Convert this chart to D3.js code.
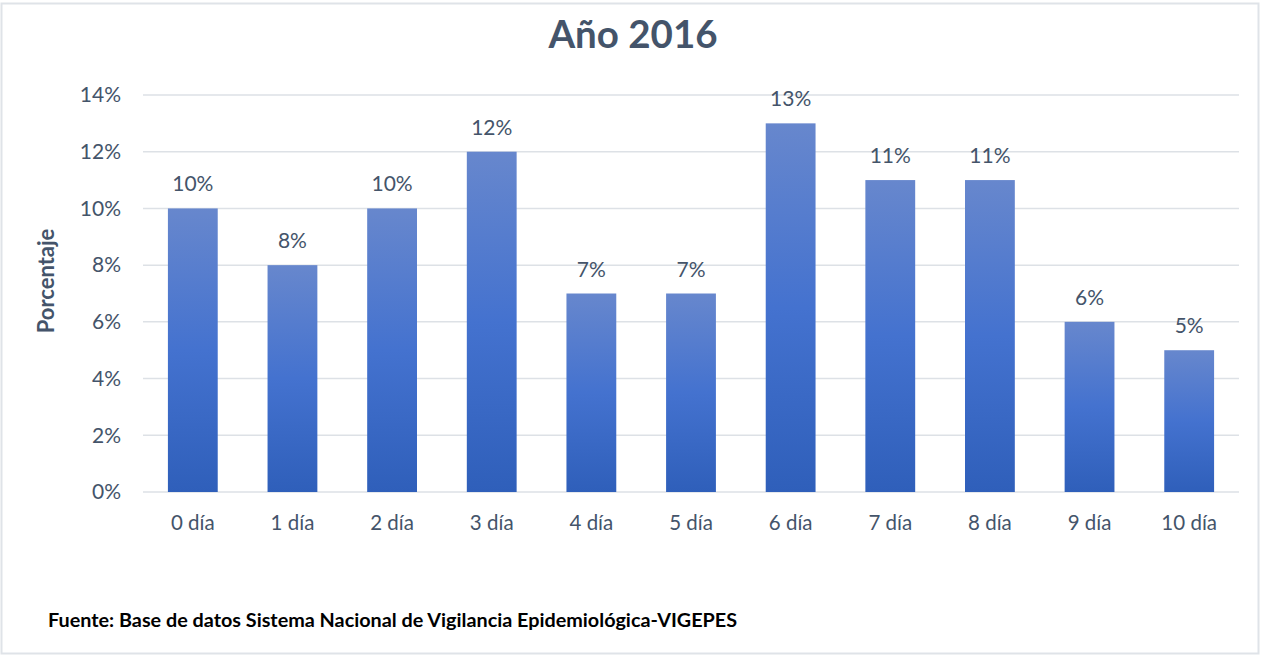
<!DOCTYPE html>
<html>
<head>
<meta charset="utf-8">
<script src="https://cdn.jsdelivr.net/npm/d3@7"></script>
<style>
  body { margin: 0; background: #fff; }
  svg { display: block; font-family: Lato, "Open Sans", sans-serif; }
</style>
</head>
<body>
<div id="chart"></div>
<script>
// Data
const categories = ['0 día', '1 día', '2 día', '3 día', '4 día', '5 día', '6 día', '7 día', '8 día', '9 día', '10 día'];
const values = [10, 8, 10, 12, 7, 7, 13, 11, 11, 6, 5];
const yTicks = [0, 2, 4, 6, 8, 10, 12, 14];

const W = 1267, H = 656;
const margin = { top: 95, right: 28, bottom: 164, left: 143 };
const width = W - margin.left - margin.right;
const height = H - margin.top - margin.bottom;

const svg = d3.select('#chart').append('svg')
  .attr('width', W)
  .attr('height', H);

// gradient for bars
const grad = svg.append('defs').append('linearGradient')
  .attr('id', 'barGrad')
  .attr('x1', 0).attr('y1', 0).attr('x2', 0).attr('y2', 1);
grad.append('stop').attr('offset', '0%').attr('stop-color', '#6787cd');
grad.append('stop').attr('offset', '50%').attr('stop-color', '#4472cf');
grad.append('stop').attr('offset', '100%').attr('stop-color', '#2f5fba');

// frame
svg.append('rect')
  .attr('x', 1.5).attr('y', 3.5)
  .attr('width', 1257).attr('height', 650)
  .attr('fill', 'none')
  .attr('stroke', '#dfe3e8')
  .attr('stroke-width', 2);

const g = svg.append('g')
  .attr('transform', `translate(${margin.left}, ${margin.top})`);

const x = d3.scaleBand().domain(categories).range([0, width]).paddingInner(0.5).paddingOuter(0.25);
const y = d3.scaleLinear().domain([0, 14]).range([height, 0]);

// gridlines
g.selectAll('.grid').data(yTicks).enter()
  .append('line')
  .attr('class', 'grid')
  .attr('x1', 0).attr('x2', width)
  .attr('y1', d => y(d)).attr('y2', d => y(d))
  .attr('stroke', '#dde1e6')
  .attr('stroke-width', 1.5);

// y axis
const yAxis = d3.axisLeft(y).tickValues(yTicks).tickFormat(d => d + '%').tickSize(0).tickPadding(22);
g.append('g').call(yAxis)
  .call(s => s.select('.domain').remove())
  .selectAll('text')
  .attr('fill', '#44546a')
  .attr('font-size', 21)
  .attr('font-family', 'Lato, sans-serif');

// x axis
const xAxis = d3.axisBottom(x).tickSize(0).tickPadding(23);
g.append('g').attr('transform', `translate(0, ${height})`).call(xAxis)
  .call(s => s.select('.domain').remove())
  .selectAll('text')
  .attr('fill', '#44546a')
  .attr('font-size', 20.5)
  .attr('font-family', 'Lato, sans-serif');

// bars
g.selectAll('.bar').data(values).enter()
  .append('rect')
  .attr('class', 'bar')
  .attr('x', (d, i) => x(categories[i]))
  .attr('y', d => y(d))
  .attr('width', x.bandwidth())
  .attr('height', d => height - y(d))
  .attr('fill', 'url(#barGrad)');

// data labels
g.selectAll('.label').data(values).enter()
  .append('text')
  .attr('class', 'label')
  .attr('x', (d, i) => x(categories[i]) + x.bandwidth() / 2)
  .attr('y', d => y(d) - 17)
  .attr('text-anchor', 'middle')
  .attr('fill', '#44546a')
  .attr('font-size', 21)
  .text(d => d + '%');

// title
svg.append('text')
  .attr('x', 633).attr('y', 48)
  .attr('text-anchor', 'middle')
  .attr('fill', '#44546a')
  .attr('font-size', 38.5)
  .attr('font-weight', 'bold')
  .text('Año 2016');

// y axis label
svg.append('text')
  .attr('transform', 'translate(54, 281) rotate(-90)')
  .attr('text-anchor', 'middle')
  .attr('fill', '#44546a')
  .attr('font-size', 22)
  .attr('font-weight', 'bold')
  .text('Porcentaje');

// source
svg.append('text')
  .attr('x', 48).attr('y', 627)
  .attr('fill', '#000')
  .attr('font-size', 19.8)
  .attr('font-weight', 'bold')
  .text('Fuente: Base de datos Sistema Nacional de Vigilancia Epidemiológica-VIGEPES');
</script>
</body>
</html>
